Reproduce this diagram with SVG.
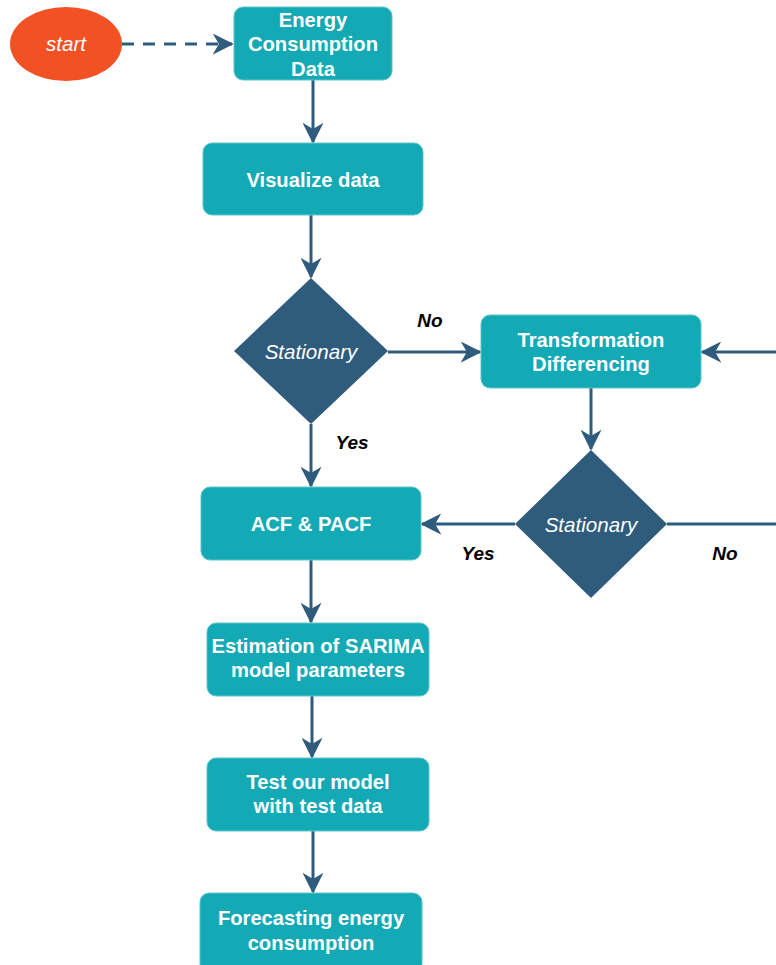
<svg xmlns="http://www.w3.org/2000/svg" width="776" height="965" viewBox="0 0 776 965">
  <style>
    .box { fill: #13a9b5; stroke: #5ec5cc; stroke-width: 1; }
    .dec { fill: #2f5b7c; }
    .btxt { font-family: "Liberation Sans", Arial, sans-serif; font-size: 20.2px; font-weight: bold; fill: #ffffff; text-anchor: middle; }
    .itxt { font-family: "Liberation Sans", Arial, sans-serif; font-size: 20.6px; font-style: italic; fill: #ffffff; text-anchor: middle; }
    .lbl { font-family: "Liberation Sans", Arial, sans-serif; font-size: 19px; font-style: italic; font-weight: bold; fill: #000000; text-anchor: middle; }
    .edge { fill: none; stroke: #2f5b7c; stroke-width: 3; }
    .dash { stroke-dasharray: 12 9; }
  </style>
  <defs>
    <marker id="arrow" viewBox="0 0 12 12" refX="11" refY="6" markerWidth="7" markerHeight="7" markerUnits="strokeWidth" orient="auto">
      <path d="M0,0 L12,6 L0,12 L3.5,6 Z" fill="#2f5b7c"/>
    </marker>
  </defs>

  <!-- connectors -->
  <g id="connectors">
    <path class="edge dash" d="M122,44 L232,44" marker-end="url(#arrow)"/>
    <path class="edge" d="M313,80 L313,142" marker-end="url(#arrow)"/>
    <path class="edge" d="M311,215 L311,277" marker-end="url(#arrow)"/>
    <path class="edge" d="M388,352 L480,352" marker-end="url(#arrow)"/>
    <path class="edge" d="M776,352 L702,352" marker-end="url(#arrow)"/>
    <path class="edge" d="M591,388 L591,449" marker-end="url(#arrow)"/>
    <path class="edge" d="M667,524 L776,524"/>
    <path class="edge" d="M515,524 L422,524" marker-end="url(#arrow)"/>
    <path class="edge" d="M311,424 L311,486" marker-end="url(#arrow)"/>
    <path class="edge" d="M311,560 L311,622" marker-end="url(#arrow)"/>
    <path class="edge" d="M312,696 L312,757" marker-end="url(#arrow)"/>
    <path class="edge" d="M313,831 L313,892" marker-end="url(#arrow)"/>
    <text class="lbl" x="430" y="327">No</text>
    <text class="lbl" x="352" y="449">Yes</text>
    <text class="lbl" x="478" y="560">Yes</text>
    <text class="lbl" x="725" y="560">No</text>
  </g>

  <g id="start">
    <ellipse cx="66" cy="44" rx="56" ry="37" fill="#f25124"/>
    <text class="itxt" x="66" y="51">start</text>
  </g>

  <g id="energy-data">
    <rect class="box" x="234" y="7" width="158" height="73" rx="9"/>
    <text class="btxt" x="313" y="27">Energy</text>
    <text class="btxt" x="313" y="51">Consumption</text>
    <text class="btxt" x="313" y="76">Data</text>
  </g>

  <g id="visualize">
    <rect class="box" x="203" y="143" width="220" height="72" rx="9"/>
    <text class="btxt" x="313" y="187">Visualize data</text>
  </g>

  <g id="stationary-1">
    <polygon class="dec" points="311,278 388,351 311,424 234,351"/>
    <text class="itxt" x="311" y="359">Stationary</text>
  </g>

  <g id="transformation">
    <rect class="box" x="481" y="315" width="220" height="73" rx="9"/>
    <text class="btxt" x="591" y="347">Transformation</text>
    <text class="btxt" x="591" y="371">Differencing</text>
  </g>

  <g id="stationary-2">
    <polygon class="dec" points="591,450 667,524 591,598 515,524"/>
    <text class="itxt" x="591" y="532">Stationary</text>
  </g>

  <g id="acf-pacf">
    <rect class="box" x="201" y="487" width="220" height="73" rx="9"/>
    <text class="btxt" x="311" y="531">ACF &amp; PACF</text>
  </g>

  <g id="estimation">
    <rect class="box" x="207" y="623" width="222" height="73" rx="9"/>
    <text class="btxt" x="318" y="653">Estimation of SARIMA</text>
    <text class="btxt" x="318" y="677">model parameters</text>
  </g>

  <g id="test-model">
    <rect class="box" x="207" y="758" width="222" height="73" rx="9"/>
    <text class="btxt" x="318" y="789">Test our model</text>
    <text class="btxt" x="318" y="813">with test data</text>
  </g>

  <g id="forecast">
    <rect class="box" x="200" y="893" width="222" height="80" rx="9"/>
    <text class="btxt" x="311" y="925">Forecasting energy</text>
    <text class="btxt" x="311" y="950">consumption</text>
  </g>
</svg>
